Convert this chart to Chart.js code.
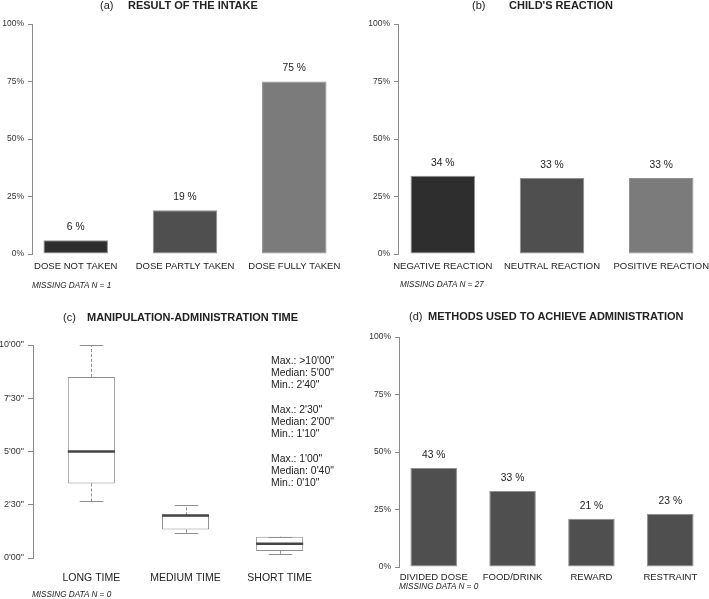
<!DOCTYPE html>
<html>
<head>
<meta charset="utf-8">
<script src="https://cdn.jsdelivr.net/npm/chart.js@4.4.1/dist/chart.umd.min.js"></script>
<style>
body { margin: 0; background: #fff; font-family: 'Liberation Sans', Arial, sans-serif; color: #222; }
#wrap { position: relative; width: 709px; height: 599px; overflow: hidden; }
canvas { position: absolute; }
.t { position: absolute; font-size: 11px; line-height: 12px; white-space: nowrap; }
.b { font-weight: bold; }
.miss { position: absolute; font-size: 8.2px; font-style: italic; line-height: 10px; white-space: nowrap; }
.stats { position: absolute; font-size: 10.4px; line-height: 12.2px; white-space: pre; }
</style>
</head>
<body>
<div id="wrap">
  <canvas id="chartA" width="354" height="300" style="left:0;top:0"></canvas>
  <canvas id="chartB" width="354" height="300" style="left:355px;top:0"></canvas>
  <canvas id="chartC" width="354" height="299" style="left:0;top:300px"></canvas>
  <canvas id="chartD" width="354" height="299" style="left:355px;top:300px"></canvas>

  <span class="t" style="left:100px;top:-1px">(a)</span>
  <span class="t b" style="left:128px;top:-1px">RESULT OF THE INTAKE</span>
  <span class="t" style="left:472px;top:-1px">(b)</span>
  <span class="t b" style="left:509px;top:-1px">CHILD'S REACTION</span>
  <span class="t" style="left:63px;top:311px">(c)</span>
  <span class="t b" style="left:87px;top:311px">MANIPULATION-ADMINISTRATION TIME</span>
  <span class="t" style="left:409px;top:310px">(d)</span>
  <span class="t b" style="left:428px;top:310px">METHODS USED TO ACHIEVE ADMINISTRATION</span>

  <span class="miss" style="left:32px;top:281px">MISSING DATA N = 1</span>
  <span class="miss" style="left:400px;top:280px">MISSING DATA N = 27</span>
  <span class="miss" style="left:32px;top:590px">MISSING DATA N = 0</span>
  <span class="miss" style="left:399px;top:582px">MISSING DATA N = 0</span>

  <div class="stats" id="stats" style="left:271px;top:355px"></div>
</div>

<script>
var intakeCats = ['DOSE NOT TAKEN', 'DOSE PARTLY TAKEN', 'DOSE FULLY TAKEN']
var intakePct = [6, 19, 75]
var reactionCats = ['NEGATIVE REACTION', 'NEUTRAL REACTION', 'POSITIVE REACTION']
var reactionPct = [34, 33, 33]
var methodCats = ['DIVIDED DOSE', 'FOOD/DRINK', 'REWARD', 'RESTRAINT']
var methodPct = [43, 33, 21, 23]
var pctTicks = [0, 25, 50, 75, 100]

// box plot, values in seconds
var timeCats = ['LONG TIME', 'MEDIUM TIME', 'SHORT TIME']
var timeMin = [160, 70, 10]
var timeQ1 = [210, 80, 20]
var timeMedian = [300, 120, 40]
var timeQ3 = [510, 120, 60]
var timeMax = [600, 150, 60]
var timeTicks = [0, 150, 300, 450, 600]
var timeTickLabels = ["0'00\"", "2'30\"", "5'00\"", "7'30\"", "10'00\""]
var statsLines = [
  "Max.: >10'00\"", "Median: 5'00\"", "Min.: 2'40\"", "",
  "Max.: 2'30\"", "Median: 2'00\"", "Min.: 1'10\"", "",
  "Max.: 1'00\"", "Median: 0'40\"", "Min.: 0'10\""
]
document.getElementById('stats').textContent = statsLines.join('\n')

var fam = "'Liberation Sans', Arial, sans-serif"
var axisGrey = '#8a8a8a'

var valueLabels = {
  id: 'valueLabels',
  afterDatasetsDraw: function (chart) {
    var ctx = chart.ctx
    var meta = chart.getDatasetMeta(0)
    var vals = chart.data.datasets[0].data
    ctx.save()
    ctx.font = '10.3px ' + fam
    ctx.fillStyle = '#222'
    ctx.textAlign = 'center'
    ctx.textBaseline = 'middle'
    meta.data.forEach(function (bar, i) {
      ctx.fillText(vals[i].y + ' %', bar.x, bar.y - 13)
    })
    ctx.restore()
  }
}

function fixX(width) {
  return function (scale) { scale.height = width; scale.paddingLeft = 0; scale.paddingRight = 0 }
}
function fixY(width) {
  return function (scale) { scale.width = width; scale.paddingTop = 0; scale.paddingBottom = 0 }
}

function barChart(id, cats, pct, colors, lay) {
  var ctx = document.getElementById(id).getContext('2d')
  return new Chart(ctx, {
    type: 'bar',
    data: {
      datasets: [{
        data: pct.map(function (v, i) { return { x: i, y: v } }),
        backgroundColor: colors,
        borderColor: '#8f8f8f',
        borderWidth: 1,
        borderSkipped: false,
        categoryPercentage: 1,
        barPercentage: 0.59
      }]
    },
    options: {
      responsive: false,
      animation: false,
      devicePixelRatio: 1,
      layout: { padding: { left: 0, top: lay.top, right: lay.right, bottom: 0 } },
      plugins: { legend: { display: false }, tooltip: { enabled: false } },
      scales: {
        x: {
          type: 'linear', min: lay.xmin, max: lay.xmax, offset: false,
          grid: { display: false, drawTicks: false, tickLength: 0 }, border: { display: false },
          afterBuildTicks: function (scale) { scale.ticks = cats.map(function (c, i) { return { value: i } }) },
          afterFit: fixX(lay.bottom),
          ticks: {
            autoSkip: false, maxRotation: 0, padding: lay.labelPad,
            color: '#222', font: { family: fam, size: 9.5 },
            callback: function (v) { return cats[v] }
          }
        },
        y: {
          min: 0, max: 100,
          grid: { drawOnChartArea: false, drawTicks: true, tickLength: 4, color: axisGrey },
          border: { display: true, color: axisGrey },
          afterBuildTicks: function (scale) { scale.ticks = pctTicks.map(function (v) { return { value: v } }) },
          afterFit: fixY(lay.left),
          ticks: {
            padding: 4, color: '#333', font: { family: fam, size: 8.5 },
            callback: function (v) { return v + '%' }
          }
        }
      }
    },
    plugins: [valueLabels]
  })
}

barChart('chartA', intakeCats, intakePct, ['#2e2e2e', '#4f4f4f', '#7b7b7b'],
  { left: 32, top: 24, right: 16, bottom: 46, xmin: -0.4, xmax: 2.4, labelPad: 7 })
barChart('chartB', reactionCats, reactionPct, ['#2e2e2e', '#4f4f4f', '#7b7b7b'],
  { left: 43, top: 24, right: 3, bottom: 46, xmin: -0.41, xmax: 2.41, labelPad: 7 })
barChart('chartD', methodCats, methodPct, ['#4f4f4f', '#4f4f4f', '#4f4f4f', '#4f4f4f'],
  { left: 44, top: 37, right: 4, bottom: 32, xmin: -0.44, xmax: 3.44, labelPad: 4.5 })

// whiskers, caps and medians on top of the boxes
var boxParts = {
  id: 'boxParts',
  afterDatasetsDraw: function (chart) {
    var ctx = chart.ctx
    var ys = chart.scales.y
    var meta = chart.getDatasetMeta(0)
    function line(x1, y1, x2, y2) { ctx.beginPath(); ctx.moveTo(x1, y1); ctx.lineTo(x2, y2); ctx.stroke() }
    ctx.save()
    meta.data.forEach(function (box, i) {
      var x = Math.round(box.x) + 0.5
      var half = box.width / 2, cap = box.width / 4
      var yMin = Math.round(ys.getPixelForValue(timeMin[i])) + 0.5
      var yQ1 = ys.getPixelForValue(timeQ1[i])
      var yMed = ys.getPixelForValue(timeMedian[i])
      var yQ3 = ys.getPixelForValue(timeQ3[i])
      var yMax = Math.round(ys.getPixelForValue(timeMax[i])) + 0.5
      ctx.strokeStyle = '#8f8f8f'
      ctx.lineWidth = 1
      ctx.setLineDash([3, 2])
      line(x, yQ3, x, yMax)
      line(x, yQ1, x, yMin)
      ctx.setLineDash([])
      line(x - cap, yMax, x + cap, yMax)
      line(x - cap, yMin, x + cap, yMin)
      ctx.strokeStyle = '#444'
      ctx.lineWidth = 2.5
      line(box.x - half, yMed, box.x + half, yMed)
    })
    ctx.restore()
  }
}

new Chart(document.getElementById('chartC').getContext('2d'), {
  type: 'bar',
  data: {
    datasets: [{
      data: timeCats.map(function (c, i) { return { x: i + 1, y: [timeQ1[i], timeQ3[i]] } }),
      backgroundColor: '#fff',
      borderColor: '#8f8f8f',
      borderWidth: 1,
      borderSkipped: false,
      categoryPercentage: 1,
      barPercentage: 0.5
    }]
  },
  options: {
    responsive: false,
    animation: false,
    devicePixelRatio: 1,
    layout: { padding: { left: 0, top: 45, right: 16, bottom: 0 } },
    plugins: { legend: { display: false }, tooltip: { enabled: false } },
    scales: {
      x: {
        type: 'linear', min: 0.38, max: 3.62, offset: false,
        grid: { display: false, drawTicks: false, tickLength: 0 }, border: { display: false },
        afterBuildTicks: function (scale) { scale.ticks = timeCats.map(function (c, i) { return { value: i + 1 } }) },
        afterFit: fixX(41),
        ticks: {
          autoSkip: false, maxRotation: 0, padding: 14,
          color: '#222', font: { family: fam, size: 10.5 },
          callback: function (v) { return timeCats[v - 1] }
        }
      },
      y: {
        min: 0, max: 600,
        grid: { drawOnChartArea: false, drawTicks: true, tickLength: 5, color: axisGrey },
        border: { display: true, color: axisGrey },
        afterBuildTicks: function (scale) { scale.ticks = timeTicks.map(function (v) { return { value: v } }) },
        afterFit: fixY(33),
        ticks: {
          padding: 4, color: '#333', font: { family: fam, size: 9 },
          callback: function (v, i) { return timeTickLabels[i] }
        }
      }
    }
  },
  plugins: [boxParts]
})
</script>
</body>
</html>
